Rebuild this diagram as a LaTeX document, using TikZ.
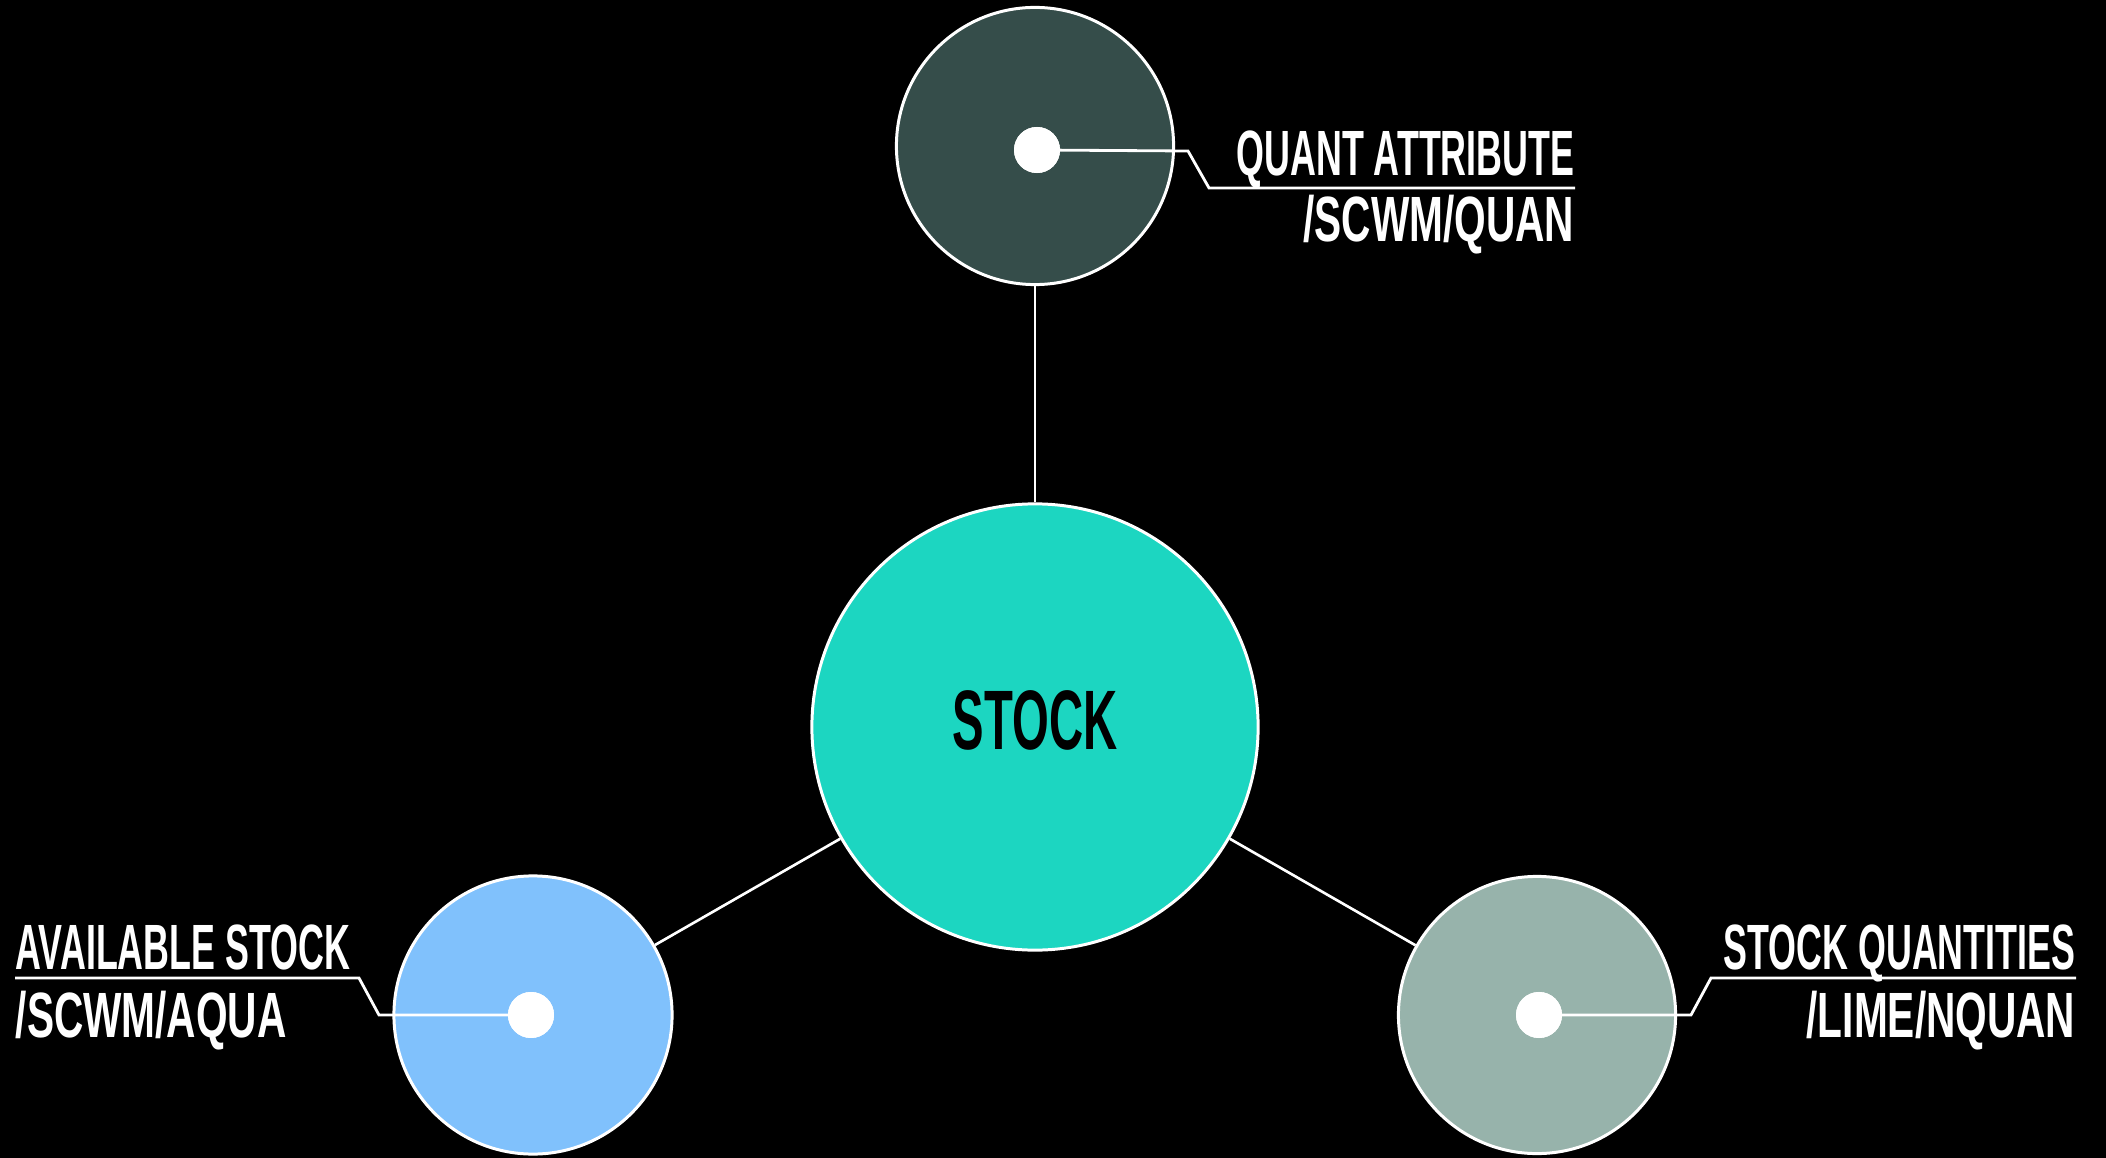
\documentclass[tikz,border=0pt]{standalone}
\usepackage{fontspec}
\usepackage{tikz}
\newfontfamily\bebas[FakeStretch=0.56]{Liberation Sans}
\newfontfamily\bebaswide[FakeStretch=0.635]{Liberation Sans}
\definecolor{quantgreen}{HTML}{354D4A}
\definecolor{stockteal}{HTML}{1CD6C1}
\definecolor{availblue}{HTML}{80C1FC}
\definecolor{qtygrey}{HTML}{97B3AB}
\begin{document}
\begin{tikzpicture}[x=0.01cm,y=-0.01cm,
   bubble/.style={circle,draw=white,line width=0.85pt,inner sep=0pt},
   dot/.style={circle,fill=white,inner sep=0pt,minimum size=0.46cm},
   link/.style={white,line width=0.75pt},
   lead/.style={white,line width=0.8pt},
   tag/.style={text=white,inner sep=0pt,font=\bebas\bfseries\fontsize{18.2}{20}\selectfont},
   code/.style={text=white,inner sep=0pt,font=\bebaswide\bfseries\fontsize{18.2}{20}\selectfont}]
   \fill[black] (0,0) rectangle (2106,1158);
   \useasboundingbox (0,0) rectangle (2106,1158);

   \node[bubble,fill=quantgreen,minimum size=2.77cm] (quant) at (1035,146) {};
   \node[bubble,fill=stockteal,minimum size=4.46cm] (stock) at (1035,727) {};
   \node[bubble,fill=availblue,minimum size=2.78cm] (avail) at (533,1015) {};
   \node[bubble,fill=qtygrey,minimum size=2.77cm] (qty) at (1537,1015) {};

   \node[anchor=base,inner sep=0pt,font=\bebas\bfseries\fontsize{24}{26}\selectfont] (stocktxt) at (1035,749) {STOCK};

   \draw[link] (quant) -- (stock);
   \draw[link] (stock) -- (avail);
   \draw[link] (stock) -- (qty);

   \node[dot] (quantdot) at (1037,150) {};
   \node[dot] (availdot) at (531,1015) {};
   \node[dot] (qtydot) at (1539,1015) {};

   \node[tag,anchor=base east] (quanttop) at (1575,176) {QUANT ATTRIBUTE};
   \node[code,anchor=base east] (quantbot) at (1575,242) {/SCWM/QUAN};
   \node[tag,anchor=base west] (availtop) at (15,969) {AVAILABLE STOCK};
   \node[code,anchor=base west] (availbot) at (15,1037) {/SCWM/AQUA};
   \node[tag,anchor=base east] (qtytop) at (2076,969) {STOCK QUANTITIES};
   \node[code,anchor=base east] (qtybot) at (2076,1037) {/LIME/NQUAN};

   \coordinate (quantkink) at (1188,151);
   \coordinate (quantend) at (1575,188);
   \draw[lead] (quantdot.center) -- (quantkink) -- (1209,188) -- (quantend);
   \coordinate (availkink) at (379,1015);
   \coordinate (availend) at (15,978);
   \draw[lead] (availdot.center) -- (availkink) -- (359,978) -- (availend);
   \coordinate (qtykink) at (1691,1015);
   \coordinate (qtyend) at (2076,978);
   \draw[lead] (qtydot.center) -- (qtykink) -- (1711,978) -- (qtyend);
   \node[dot] at (quantdot) {};
   \node[dot] at (availdot) {};
   \node[dot] at (qtydot) {};
\end{tikzpicture}
\end{document}
